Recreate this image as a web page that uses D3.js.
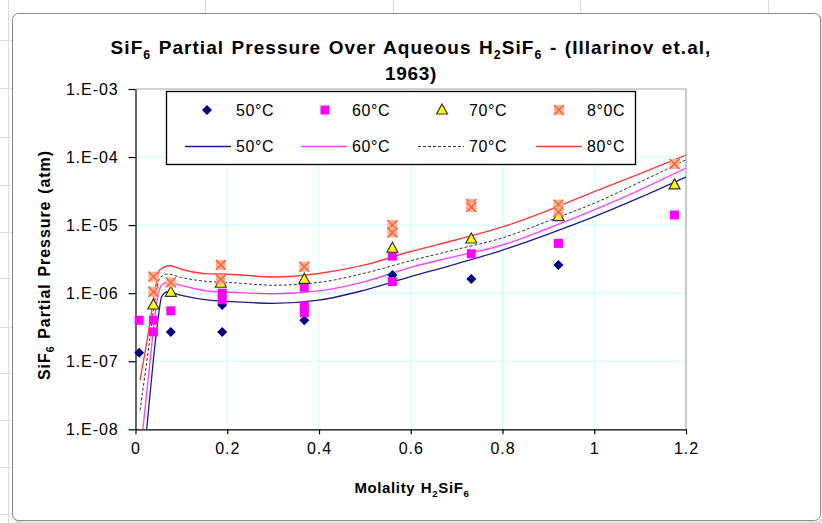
<!DOCTYPE html>
<html>
<head>
<meta charset="utf-8">
<script src="https://cdn.jsdelivr.net/npm/d3@7"></script>
<style>
  body { margin: 0; background: #fff; }
  svg { display: block; font-family: "Liberation Sans", Arial, sans-serif; }
</style>
</head>
<body>
<svg id="chart" width="822" height="523"></svg>
<script>
// Measured points (molality, partial pressure atm)
const pts50x = [0.008, 0.077, 0.189, 0.189, 0.368, 0.56, 0.732, 0.922];
const pts50y = [1.33e-7, 2.7e-7, 2.7e-7, 6.7e-7, 4.0e-7, 1.85e-6, 1.62e-6, 2.6e-6];

const pts60x = [0.008, 0.039, 0.039, 0.077, 0.189, 0.189, 0.368, 0.368, 0.368, 0.56, 0.56, 0.732, 0.922, 1.175];
const pts60y = [4.0e-7, 4.0e-7, 2.7e-7, 5.5e-7, 1.0e-6, 8.0e-7, 1.22e-6, 6.5e-7, 5.2e-7, 3.5e-6, 1.48e-6, 3.8e-6, 5.4e-6, 1.41e-5];

const pts70x = [0.039, 0.077, 0.186, 0.368, 0.56, 0.732, 0.922, 1.175];
const pts70y = [6.7e-7, 1.03e-6, 1.4e-6, 1.6e-6, 4.57e-6, 6.25e-6, 1.33e-5, 3.9e-5];

const pts80x = [0.039, 0.039, 0.077, 0.186, 0.186, 0.368, 0.56, 0.56, 0.732, 0.732, 0.922, 0.922, 1.175];
const pts80y = [1.75e-6, 1.05e-6, 1.44e-6, 2.6e-6, 1.6e-6, 2.45e-6, 1.0e-5, 7.8e-6, 2.05e-5, 1.85e-5, 2.0e-5, 1.57e-5, 7.9e-5];

// Model curves
const line50x = [0.02, 0.025, 0.039, 0.05, 0.057, 0.07, 0.1, 0.16, 0.2, 0.3, 0.4, 0.5, 0.6, 0.7, 0.8, 0.9, 1.0, 1.1, 1.2];
const line50y = [5e-9, 1.1e-8, 1.05e-7, 4.6e-7, 8.9e-7, 1.05e-6, 9.3e-7, 7.9e-7, 7.6e-7, 7.1e-7, 7.9e-7, 1.11e-6, 1.75e-6, 2.7e-6, 4.3e-6, 7.4e-6, 1.33e-5, 2.55e-5, 5.1e-5];

const line60x = [0.015, 0.032, 0.046, 0.057, 0.07, 0.1, 0.16, 0.2, 0.3, 0.4, 0.5, 0.6, 0.7, 0.8, 0.9, 1.0, 1.1, 1.2];
const line60y = [8.5e-9, 1.05e-7, 7.2e-7, 1.32e-6, 1.45e-6, 1.3e-6, 1.07e-6, 1.04e-6, 9.8e-7, 1.08e-6, 1.48e-6, 2.4e-6, 3.5e-6, 5.1e-6, 9.0e-6, 1.67e-5, 3.3e-5, 6.9e-5];

const line70x = [0.01, 0.028, 0.0425, 0.053, 0.07, 0.1, 0.16, 0.2, 0.3, 0.4, 0.5, 0.6, 0.7, 0.8, 0.9, 1.0, 1.1, 1.2];
const line70y = [1.9e-8, 1.46e-7, 7.9e-7, 1.67e-6, 1.91e-6, 1.7e-6, 1.48e-6, 1.44e-6, 1.31e-6, 1.44e-6, 1.97e-6, 3.0e-6, 4.4e-6, 6.5e-6, 1.15e-5, 2.1e-5, 4.3e-5, 9.1e-5];

const line80x = [0.01, 0.028, 0.0425, 0.053, 0.075, 0.1, 0.16, 0.2, 0.3, 0.4, 0.5, 0.6, 0.7, 0.8, 0.9, 1.0, 1.1, 1.2];
const line80y = [5.3e-8, 2.6e-7, 1.11e-6, 2.2e-6, 2.53e-6, 2.25e-6, 1.92e-6, 1.9e-6, 1.73e-6, 1.95e-6, 2.6e-6, 4.1e-6, 6.1e-6, 9.4e-6, 1.65e-5, 3.1e-5, 5.7e-5, 1.07e-4];

const xTicks = [0, 0.2, 0.4, 0.6, 0.8, 1, 1.2];
const yTicks = [1e-3, 1e-4, 1e-5, 1e-6, 1e-7, 1e-8];
const yTickLabels = ["1.E-03", "1.E-04", "1.E-05", "1.E-06", "1.E-07", "1.E-08"];

const pointLabels = ["50°C", "60°C", "70°C", "8°0C"];
const lineLabels = ["50°C", "60°C", "70°C", "80°C"];

const svg = d3.select("#chart");

// spreadsheet background behind the chart
const bg = svg.append("g").attr("stroke", "#dcdcdc").attr("stroke-width", 1);
[40, 88, 137, 185, 232, 278, 327, 373, 420, 467, 514].forEach(y => {
    bg.append("line").attr("x1", 0).attr("x2", 13).attr("y1", y + 0.5).attr("y2", y + 0.5);
});
bg.append("line").attr("x1", 8.5).attr("x2", 8.5).attr("y1", 0).attr("y2", 523);
[205, 393, 580, 768].forEach(x => {
    bg.append("line").attr("x1", x + 0.5).attr("x2", x + 0.5).attr("y1", 0).attr("y2", 14);
});

// chart frame
svg.append("rect")
    .attr("x", 14.5).attr("y", 15.5).attr("width", 808).attr("height", 507)
    .attr("rx", 6).attr("fill", "none").attr("stroke", "#d8d8d8").attr("stroke-width", 2);
svg.append("rect")
    .attr("x", 12.5).attr("y", 13.5).attr("width", 808).attr("height", 507)
    .attr("rx", 6).attr("fill", "#fff").attr("stroke", "#8a8a8a");

const plot = {left: 135.5, right: 686, top: 89, bottom: 429.3};

const x = d3.scaleLinear().domain([0, 1.2]).range([plot.left, plot.right]);
const y = d3.scaleLog().domain([1e-8, 1e-3]).range([plot.bottom, plot.top]);

// gridlines
const grid = svg.append("g").attr("stroke", "#c8ffff").attr("stroke-width", 1);
xTicks.slice(1, -1).forEach(t => {
    grid.append("line").attr("x1", x(t)).attr("x2", x(t)).attr("y1", plot.top).attr("y2", plot.bottom);
});
yTicks.slice(1, -1).forEach(t => {
    grid.append("line").attr("x1", plot.left).attr("x2", plot.right).attr("y1", y(t)).attr("y2", y(t));
});

// top / right border of plot area
svg.append("path")
    .attr("d", `M${plot.left},${plot.top}H${plot.right}V${plot.bottom}`)
    .attr("fill", "none").attr("stroke", "#a6a6a6").attr("stroke-width", 1.2);

// axes
const yAxis = svg.append("g")
    .attr("transform", `translate(${plot.left},0)`)
    .call(d3.axisLeft(y).tickValues(yTicks)
        .tickFormat((d, i) => yTickLabels[i]).tickSize(7).tickSizeOuter(0).tickPadding(10));
const xAxis = svg.append("g")
    .attr("transform", `translate(0,${plot.bottom})`)
    .call(d3.axisBottom(x).tickValues(xTicks)
        .tickFormat(d => String(+d.toFixed(1))).tickSize(5).tickSizeOuter(0).tickPadding(8));

[yAxis, xAxis].forEach(a => {
    a.selectAll("text")
        .attr("font-family", "Liberation Sans, Arial, sans-serif")
        .attr("font-size", 16).attr("letter-spacing", 0.9).attr("fill", "#000");
    a.selectAll("line, path").attr("stroke", "#000").attr("stroke-width", 1.2);
});

// curves
svg.append("clipPath").attr("id", "plotclip")
    .append("rect").attr("x", plot.left).attr("y", plot.top)
    .attr("width", plot.right - plot.left).attr("height", plot.bottom - plot.top);

const lineGen = d3.line().x(d => x(d[0])).y(d => y(d[1])).curve(d3.curveMonotoneX);
const curves = [
    {xs: line50x, ys: line50y, color: "#1c1c8c", width: 1.3, dash: null},
    {xs: line60x, ys: line60y, color: "#ff44ff", width: 1.4, dash: null},
    {xs: line70x, ys: line70y, color: "#333333", width: 1, dash: "3,2"},
    {xs: line80x, ys: line80y, color: "#ff3a3a", width: 1.4, dash: null}
];
const curveG = svg.append("g").attr("clip-path", "url(#plotclip)");
curves.forEach(c => {
    curveG.append("path")
        .datum(c.xs.map((v, i) => [v, c.ys[i]]))
        .attr("d", lineGen)
        .attr("fill", "none")
        .attr("stroke", c.color)
        .attr("stroke-width", c.width)
        .attr("stroke-dasharray", c.dash);
});

// markers
function drawMarker(g, kind) {
    if (kind === 0) {
        g.append("path").attr("d", "M0,-5L5,0L0,5L-5,0Z").attr("fill", "#000080");
    } else if (kind === 1) {
        g.append("rect").attr("x", -4.5).attr("y", -4.5).attr("width", 9).attr("height", 9).attr("fill", "#ff00ff");
    } else if (kind === 2) {
        g.append("path").attr("d", "M0,-6L5.5,4L-5.5,4Z")
            .attr("fill", "#ffff00").attr("stroke", "#333").attr("stroke-width", 1.2);
    } else {
        g.append("rect").attr("x", -5).attr("y", -5).attr("width", 10).attr("height", 10).attr("fill", "#f9b48e");
        g.append("path").attr("d", "M-5,-5L5,5M5,-5L-5,5").attr("stroke", "#ff5a3c").attr("stroke-width", 1.3);
    }
}

const pointSets = [[pts50x, pts50y], [pts60x, pts60y], [pts70x, pts70y], [pts80x, pts80y]];
pointSets.forEach((set, k) => {
    set[0].forEach((v, i) => {
        const g = svg.append("g").attr("transform", `translate(${x(v)},${y(set[1][i])})`);
        drawMarker(g, k);
    });
});

// legend
const legend = svg.append("g");
legend.append("rect")
    .attr("x", 166.5).attr("y", 91.5).attr("width", 469).attr("height", 73)
    .attr("fill", "#fff").attr("stroke", "#000").attr("stroke-width", 1.3);
const colX = [207, 325, 442, 559];
const textX = [236, 352, 469, 587];
pointLabels.forEach((lab, k) => {
    drawMarker(legend.append("g").attr("transform", `translate(${colX[k]},110)`), k);
    legend.append("text").attr("x", textX[k]).attr("y", 116)
        .attr("font-size", 16).attr("letter-spacing", 0.6).text(lab);
});
lineLabels.forEach((lab, k) => {
    const c = curves[k];
    legend.append("line")
        .attr("x1", textX[k] - 51).attr("x2", textX[k] - 5).attr("y1", 146.5).attr("y2", 146.5)
        .attr("stroke", c.color).attr("stroke-width", c.width).attr("stroke-dasharray", c.dash);
    legend.append("text").attr("x", textX[k]).attr("y", 152)
        .attr("font-size", 16).attr("letter-spacing", 0.6).text(lab);
});

// text with subscripts, stretched to the width seen in the chart
function richText(sel, parts, size, target) {
    let shift = 0;
    parts.forEach(p => {
        const ts = sel.append("tspan").text(p.t);
        if (p.sub) {
            ts.attr("font-size", size * 0.65).attr("dy", size * 0.25 - shift);
            shift = size * 0.25;
        } else {
            ts.attr("dy", -shift);
            shift = 0;
        }
    });
    const node = sel.node();
    const n = node.getNumberOfChars();
    const spaces = (node.textContent.match(/ /g) || []).length;
    const extra = target - node.getComputedTextLength();
    sel.attr("letter-spacing", (spaces ? extra * 0.85 : extra) / n);
    if (spaces) sel.attr("word-spacing", extra * 0.15 / spaces);
}

const title = svg.append("text")
    .attr("x", 411).attr("y", 54).attr("text-anchor", "middle")
    .attr("font-size", 19).attr("font-weight", "bold");
richText(title, [{t: "SiF"}, {t: "6", sub: true}, {t: " Partial Pressure Over Aqueous  H"}, {t: "2", sub: true},
    {t: "SiF"}, {t: "6", sub: true}, {t: " - (Illarinov et.al,"}], 19, 602);
const title2 = svg.append("text")
    .attr("x", 411).attr("y", 80).attr("text-anchor", "middle")
    .attr("font-size", 19).attr("font-weight", "bold");
richText(title2, [{t: "1963)"}], 19, 52);

const xTitle = svg.append("text")
    .attr("x", 412).attr("y", 493).attr("text-anchor", "middle")
    .attr("font-size", 15).attr("font-weight", "bold");
richText(xTitle, [{t: "Molality  H"}, {t: "2", sub: true}, {t: "SiF"}, {t: "6", sub: true}], 15, 116);

const yTitle = svg.append("text")
    .attr("transform", "translate(50,265) rotate(-90)").attr("text-anchor", "middle")
    .attr("font-size", 16).attr("font-weight", "bold");
richText(yTitle, [{t: "SiF"}, {t: "6", sub: true}, {t: " Partial Pressure (atm)"}], 16, 230);
</script>
</body>
</html>
